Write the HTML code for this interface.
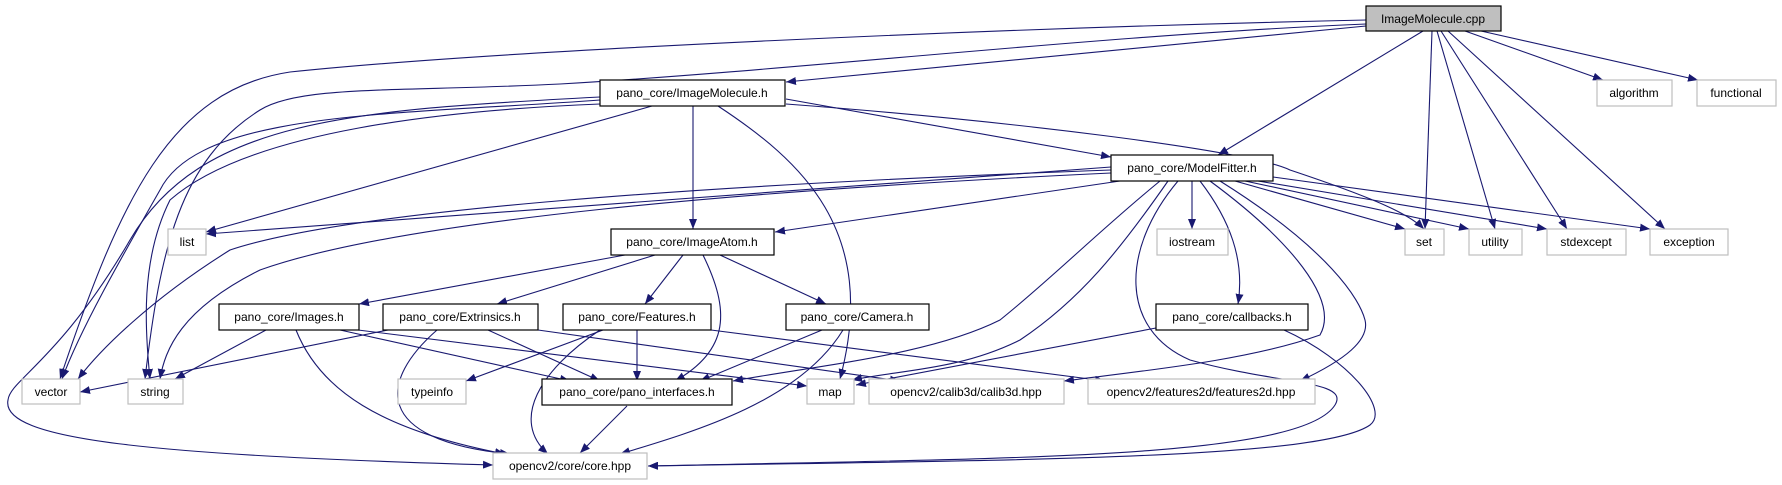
<!DOCTYPE html>
<html><head><meta charset="utf-8"><style>
html,body{margin:0;padding:0;background:#fff}
svg{display:block}
text{font-family:"Liberation Sans",sans-serif;font-size:12px;text-anchor:middle;fill:#000}
.e{fill:none;stroke:#191970;stroke-width:1.1}
.n{fill:#fff;stroke:#000;stroke-width:1.2}
.g{fill:#fff;stroke:#bfbfbf;stroke-width:1.2}
</style></head><body>
<svg width="1782" height="485" viewBox="0 0 1782 485" xmlns="http://www.w3.org/2000/svg">
<defs><marker id="a" viewBox="0 0 10 8" refX="10" refY="4" markerWidth="10" markerHeight="8" markerUnits="userSpaceOnUse" orient="auto"><path d="M0,0L10,4L0,8z" fill="#191970"/></marker></defs>
<g marker-end="url(#a)">
<!-- cpp edges -->
<path class="e" d="M1366,20 C1000,28 500,50 290,72 C170,90 120,200 60,379"/>
<path class="e" d="M1366,24 C1100,35 800,70 560,84 C400,92 300,85 260,110 C180,160 160,250 145,379"/>
<path class="e" d="M1366,26 L786,82"/>
<path class="e" d="M1423,31 L1218,155"/>
<path class="e" d="M1432,31 L1425,229"/>
<path class="e" d="M1437,31 L1495,229"/>
<path class="e" d="M1441,31 L1567,229"/>
<path class="e" d="M1448,31 L1665,229"/>
<path class="e" d="M1465,31 L1603,80"/>
<path class="e" d="M1481,31 L1698,80"/>
<!-- ImageMolecule.h -->
<path class="e" d="M786,99 L1111,157"/>
<path class="e" d="M786,104 C1000,120 1250,150 1290,170 C1380,200 1410,215 1424,229"/>
<path class="e" d="M693,106 L693,229"/>
<path class="e" d="M718,106 C800,160 880,230 840,379"/>
<path class="e" d="M652,106 L206,232"/>
<path class="e" d="M600,97 C350,110 200,120 130,240 C60,360 10,380 8,400 C0,440 150,455 493,465"/>
<path class="e" d="M600,100 C400,115 200,110 160,190 C120,260 80,330 62,379"/>
<path class="e" d="M600,104 C450,110 250,130 170,200 C140,260 145,330 150,379"/>
<!-- ModelFitter.h -->
<path class="e" d="M1111,167 L206,234"/>
<path class="e" d="M1111,170 C700,185 350,210 230,250 C150,300 100,350 78,379"/>
<path class="e" d="M1111,173 C750,190 400,220 260,270 C180,310 165,350 160,379"/>
<path class="e" d="M1120,181 L775,232"/>
<path class="e" d="M1160,181 C1100,230 1050,280 1000,320 C930,355 820,365 733,381"/>
<path class="e" d="M1168,181 C1120,250 1080,300 1020,340 C960,370 900,370 852,380"/>
<path class="e" d="M1178,181 C1120,250 1120,330 1190,360 C1280,385 1350,380 1335,405 C1300,460 1000,458 648,466"/>
<path class="e" d="M1192,181 L1192,229"/>
<path class="e" d="M1200,181 C1230,220 1245,260 1238,304"/>
<path class="e" d="M1210,181 C1290,240 1340,300 1320,335 C1250,360 1150,370 1064,381"/>
<path class="e" d="M1220,181 C1330,250 1360,300 1365,320 C1370,340 1345,360 1300,381"/>
<path class="e" d="M1235,181 L1405,229"/>
<path class="e" d="M1245,181 L1469,229"/>
<path class="e" d="M1258,181 L1547,229"/>
<path class="e" d="M1273,177 L1650,229"/>
<!-- callbacks -->
<path class="e" d="M1156,328 L856,385"/>
<path class="e" d="M1284,330 C1350,360 1390,410 1370,425 C1320,460 1000,460 648,466"/>
<!-- ImageAtom -->
<path class="e" d="M625,255 L359,304"/>
<path class="e" d="M655,255 L497,304"/>
<path class="e" d="M683,255 L645,304"/>
<path class="e" d="M720,255 L826,304"/>
<path class="e" d="M703,255 C730,310 730,350 675,381"/>
<!-- Images.h -->
<path class="e" d="M266,330 L175,379"/>
<path class="e" d="M296,330 C320,390 380,430 505,454"/>
<path class="e" d="M340,330 L570,381"/>
<path class="e" d="M358,330 L807,386"/>
<!-- Extrinsics -->
<path class="e" d="M388,330 L80,392"/>
<path class="e" d="M437,330 C380,380 370,440 510,454"/>
<path class="e" d="M488,330 L600,381"/>
<path class="e" d="M538,330 L900,381"/>
<!-- Features -->
<path class="e" d="M603,330 L466,381"/>
<path class="e" d="M600,330 C540,370 510,420 548,454"/>
<path class="e" d="M637,330 L637,381"/>
<path class="e" d="M711,330 L1105,381"/>
<!-- Camera -->
<path class="e" d="M822,330 L700,381"/>
<path class="e" d="M843,330 C800,400 700,430 620,454"/>
<!-- pano_interfaces -->
<path class="e" d="M627,406 L580,453"/>
</g>
<!-- nodes -->
<rect x="1366" y="6" width="135" height="25" fill="#bfbfbf" stroke="#000" stroke-width="1.2"/><text x="1433" y="23">ImageMolecule.cpp</text>
<rect class="g" x="1597" y="80" width="75" height="26"/><text x="1634" y="97">algorithm</text>
<rect class="g" x="1697" y="80" width="79" height="26"/><text x="1736" y="97">functional</text>
<rect class="n" x="600" y="80" width="185" height="26"/><text x="692" y="97">pano_core/ImageMolecule.h</text>
<rect class="n" x="1111" y="155" width="162" height="26"/><text x="1192" y="172">pano_core/ModelFitter.h</text>
<rect class="g" x="168" y="229" width="38" height="26"/><text x="187" y="246">list</text>
<rect class="n" x="611" y="229" width="163" height="26"/><text x="692" y="246">pano_core/ImageAtom.h</text>
<rect class="g" x="1157" y="229" width="71" height="26"/><text x="1192" y="246">iostream</text>
<rect class="g" x="1405" y="229" width="39" height="26"/><text x="1424" y="246">set</text>
<rect class="g" x="1469" y="229" width="53" height="26"/><text x="1495" y="246">utility</text>
<rect class="g" x="1547" y="229" width="79" height="26"/><text x="1586" y="246">stdexcept</text>
<rect class="g" x="1650" y="229" width="78" height="26"/><text x="1689" y="246">exception</text>
<rect class="n" x="219" y="304" width="140" height="26"/><text x="289" y="321">pano_core/Images.h</text>
<rect class="n" x="383" y="304" width="155" height="26"/><text x="460" y="321">pano_core/Extrinsics.h</text>
<rect class="n" x="563" y="304" width="148" height="26"/><text x="637" y="321">pano_core/Features.h</text>
<rect class="n" x="786" y="304" width="143" height="26"/><text x="857" y="321">pano_core/Camera.h</text>
<rect class="n" x="1156" y="304" width="152" height="26"/><text x="1232" y="321">pano_core/callbacks.h</text>
<rect class="g" x="22" y="379" width="58" height="25"/><text x="51" y="396">vector</text>
<rect class="g" x="128" y="379" width="55" height="25"/><text x="155" y="396">string</text>
<rect class="g" x="398" y="379" width="68" height="25"/><text x="432" y="396">typeinfo</text>
<rect class="n" x="542" y="379" width="190" height="26"/><text x="637" y="396">pano_core/pano_interfaces.h</text>
<rect class="g" x="807" y="379" width="47" height="25"/><text x="830" y="396">map</text>
<rect class="g" x="869" y="379" width="195" height="25"/><text x="966" y="396">opencv2/calib3d/calib3d.hpp</text>
<rect class="g" x="1088" y="379" width="227" height="25"/><text x="1201" y="396">opencv2/features2d/features2d.hpp</text>
<rect class="g" x="493" y="453" width="154" height="26"/><text x="570" y="470">opencv2/core/core.hpp</text>
</svg>
</body></html>
